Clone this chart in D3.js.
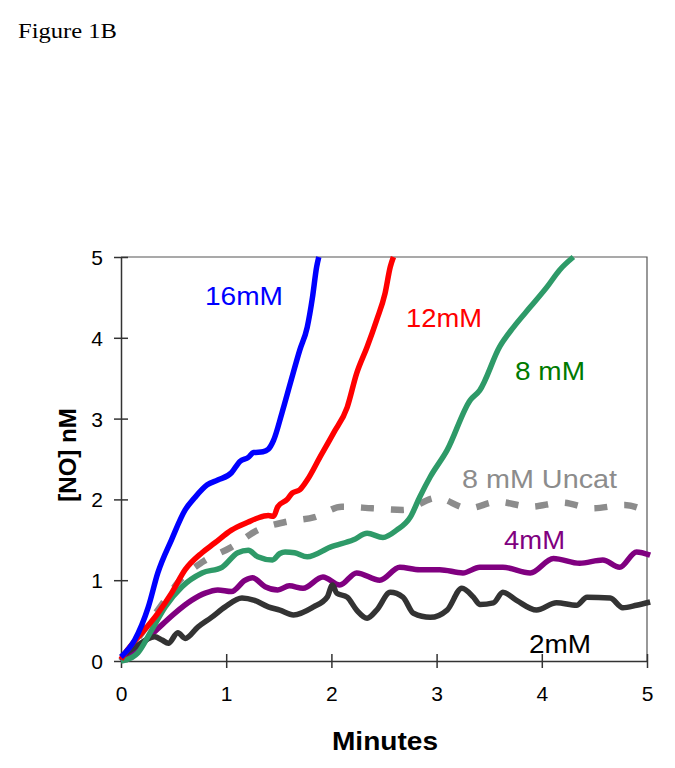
<!DOCTYPE html>
<html>
<head>
<meta charset="utf-8">
<script src="https://cdn.jsdelivr.net/npm/d3@7"></script>
<style>
  html, body { margin: 0; padding: 0; background: #fff; }
  svg { display: block; }
</style>
</head>
<body>
<script>
// ---- data: [minutes, [NO] nM] ----
const xTicks = [0, 1, 2, 3, 4, 5];
const yTicks = [0, 1, 2, 3, 4, 5];

const conc16 = [[0,0.05],[0.13,0.26],[0.26,0.67],[0.35,1.09],[0.48,1.50],[0.61,1.87],[0.70,2.02],[0.82,2.18],[0.92,2.24],[1.05,2.33],[1.13,2.47],[1.21,2.52],[1.26,2.58],[1.35,2.59],[1.40,2.62],[1.45,2.73],[1.53,3.07],[1.61,3.44],[1.70,3.85],[1.77,4.13],[1.82,4.50],[1.86,4.88],[1.88,5.0]];

const conc12 = [[0,0.02],[0.04,0.10],[0.20,0.35],[0.35,0.59],[0.48,0.84],[0.61,1.13],[0.77,1.34],[0.89,1.46],[1.05,1.62],[1.21,1.72],[1.30,1.77],[1.40,1.80],[1.45,1.79],[1.49,1.91],[1.58,2.00],[1.63,2.08],[1.70,2.12],[1.77,2.24],[1.89,2.52],[2.02,2.82],[2.15,3.14],[2.24,3.56],[2.34,3.89],[2.43,4.22],[2.51,4.55],[2.56,4.88],[2.59,5.0]];

const conc8 = [[0,0.0],[0.04,0.01],[0.16,0.10],[0.29,0.38],[0.42,0.67],[0.58,0.92],[0.77,1.09],[0.96,1.16],[1.11,1.34],[1.21,1.37],[1.30,1.29],[1.44,1.25],[1.51,1.33],[1.56,1.35],[1.65,1.34],[1.77,1.29],[1.99,1.41],[2.21,1.50],[2.34,1.58],[2.49,1.53],[2.62,1.62],[2.75,1.78],[2.84,2.03],[2.94,2.28],[3.10,2.61],[3.32,3.23],[3.41,3.35],[3.60,3.89],[3.73,4.13],[3.89,4.38],[4.05,4.63],[4.17,4.84],[4.30,5.0]];

const conc8Uncat = [[0,0.0],[0.2,0.35],[0.40,0.72],[0.56,1.00],[0.78,1.23],[1.05,1.41],[1.30,1.62],[1.56,1.72],[1.84,1.78],[2.10,1.91],[2.39,1.89],[2.68,1.87],[3.00,2.02],[3.30,1.89],[3.58,1.97],[3.89,1.91],[4.19,1.96],[4.48,1.89],[4.79,1.93],[5.0,1.85]];

const conc4 = [[0,0.0],[0.15,0.15],[0.35,0.40],[0.51,0.59],[0.67,0.75],[0.80,0.84],[0.92,0.88],[1.05,0.86],[1.18,1.00],[1.25,1.03],[1.37,0.92],[1.49,0.88],[1.60,0.93],[1.73,0.90],[1.92,1.04],[2.08,0.94],[2.24,1.09],[2.46,1.00],[2.65,1.16],[2.84,1.13],[3.03,1.13],[3.25,1.09],[3.41,1.16],[3.63,1.16],[3.89,1.09],[4.11,1.27],[4.36,1.21],[4.58,1.25],[4.74,1.16],[4.90,1.35],[5.03,1.31]];

const conc2 = [[0,0.05],[0.13,0.17],[0.32,0.30],[0.39,0.26],[0.45,0.22],[0.54,0.35],[0.61,0.28],[0.73,0.42],[0.86,0.54],[0.99,0.67],[1.15,0.78],[1.27,0.75],[1.40,0.67],[1.51,0.63],[1.64,0.57],[1.83,0.67],[1.96,0.79],[2.01,0.94],[2.05,0.84],[2.15,0.79],[2.24,0.63],[2.34,0.53],[2.43,0.63],[2.56,0.85],[2.68,0.79],[2.78,0.59],[2.94,0.54],[3.10,0.63],[3.24,0.90],[3.35,0.79],[3.41,0.70],[3.54,0.72],[3.63,0.85],[3.76,0.75],[3.95,0.63],[4.14,0.72],[4.33,0.69],[4.43,0.79],[4.65,0.78],[4.77,0.66],[4.90,0.69],[5.03,0.73]];

const seriesNames = ["8 mM Uncat", "4mM", "2mM", "8 mM", "12mM", "16mM"];
const seriesData  = [conc8Uncat, conc4, conc2, conc8, conc12, conc16];
const seriesColors = ["#8c8c8c", "#800080", "#333333", "#2e9a68", "#ff0000", "#0000ff"];
const labelColors  = ["#8c8c8c", "#800080", "#000000", "#007a00", "#ff0000", "#0000ff"];
const labelPos = [[462,488,155],[504,549,61],[529,653,62],[515,380,70],[406,327,76],[205,305,78]]; // x, baseline, width

// ---- drawing ----
const W = 675, H = 768;
const svg = d3.select("body").append("svg").attr("width", W).attr("height", H);

const x = d3.scaleLinear().domain([0, 5]).range([121, 647]);
const y = d3.scaleLinear().domain([0, 5]).range([661, 257]);

svg.append("text").attr("x", 18).attr("y", 38)
  .attr("font-family", "'Liberation Serif', 'Times New Roman', serif")
  .attr("font-size", 22).attr("textLength", 99).attr("lengthAdjust", "spacingAndGlyphs")
  .text("Figure 1B");

// frame (top and right)
svg.append("path")
  .attr("d", `M${x(0)},${y(5)}H${x(5)}V${y(0)}`)
  .attr("fill", "none").attr("stroke", "#555").attr("stroke-width", 1.2);

// axes
const xAxis = svg.append("g").attr("transform", `translate(0,${y(0)})`)
  .call(d3.axisBottom(x).tickValues(xTicks).tickFormat(d3.format("d")).tickSize(0).tickPadding(25));
const yAxis = svg.append("g").attr("transform", `translate(${x(0)},0)`)
  .call(d3.axisLeft(y).tickValues(yTicks).tickFormat(d3.format("d")).tickSize(0).tickPadding(18));

[xAxis, yAxis].forEach(g => {
  g.select(".domain").attr("stroke", "#333").attr("stroke-width", 1.5);
  g.selectAll("text").attr("font-family", "Arial, 'Liberation Sans', sans-serif")
    .attr("font-size", 21).attr("fill", "#000");
});
// crossing tick marks
xAxis.selectAll(".tick").append("line").attr("y1", -7).attr("y2", 7).attr("stroke", "#333").attr("stroke-width", 1.5);
yAxis.selectAll(".tick").append("line").attr("x1", -7).attr("x2", 7).attr("stroke", "#333").attr("stroke-width", 1.5);
yAxis.selectAll(".tick text").attr("dy", "0.36em");

// axis titles
svg.append("text").attr("x", 385).attr("y", 750).attr("text-anchor", "middle")
  .attr("font-family", "Arial, 'Liberation Sans', sans-serif").attr("font-weight", "bold")
  .attr("font-size", 25).attr("textLength", 106).attr("lengthAdjust", "spacingAndGlyphs").text("Minutes");
svg.append("text").attr("transform", "translate(76,455) rotate(-90)").attr("text-anchor", "middle")
  .attr("font-family", "Arial, 'Liberation Sans', sans-serif").attr("font-weight", "bold")
  .attr("font-size", 24).text("[NO] nM");

// lines
const line = d3.line().x(d => x(d[0])).y(d => y(d[1])).curve(d3.curveMonotoneX);
seriesData.forEach((data, i) => {
  svg.append("path").datum(data).attr("d", line)
    .attr("fill", "none").attr("stroke", seriesColors[i])
    .attr("stroke-width", i === 0 ? 6.5 : 5.5)
    .attr("stroke-linejoin", "round")
    .attr("stroke-dasharray", i === 0 ? "13,17" : null);
});

// series labels
seriesNames.forEach((name, i) => {
  const p = labelPos[i];
  svg.append("text").attr("x", p[0]).attr("y", p[1])
    .attr("font-family", "Arial, 'Liberation Sans', sans-serif")
    .attr("font-size", 25).attr("fill", labelColors[i])
    .attr("textLength", p[2]).attr("lengthAdjust", "spacingAndGlyphs")
    .text(name);
});
</script>
</body>
</html>
